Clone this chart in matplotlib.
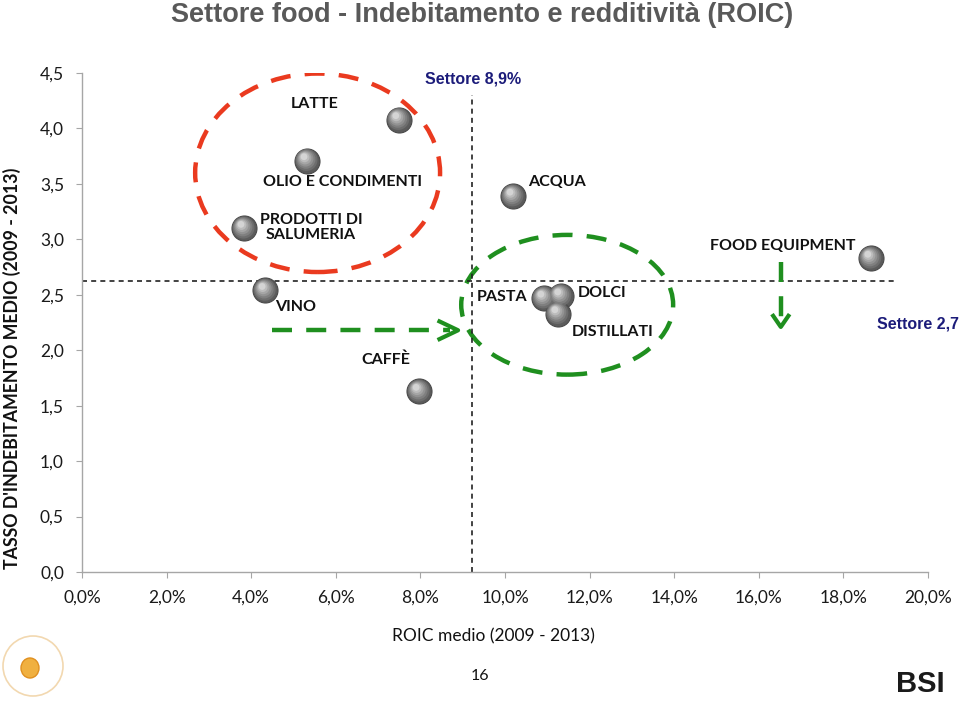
import numpy as np
import matplotlib
matplotlib.use("Agg")
import matplotlib.pyplot as plt
from matplotlib.patches import Ellipse
from matplotlib.transforms import ScaledTranslation
from matplotlib.ticker import FuncFormatter

# data: ROIC medio (%) vs tasso d'indebitamento medio
settori = ["LATTE", "OLIO E CONDIMENTI", "PRODOTTI DI\nSALUMERIA", "VINO", "CAFFÈ",
           "ACQUA", "PASTA", "DOLCI", "DISTILLATI", "FOOD EQUIPMENT"]
roic = [7.49, 5.32, 3.83, 4.33, 7.97, 10.19, 10.92, 11.32, 11.25, 18.65]
indebitamento = [4.08, 3.71, 3.10, 2.54, 1.63, 3.39, 2.47, 2.49, 2.33, 2.83]

roic_settore = 9.22      # vertical reference line (labelled 8,9%)
indeb_settore = 2.62     # horizontal reference line (labelled 2,7)

x_ticks = np.arange(0, 21, 2)
y_ticks = np.arange(0, 4.51, 0.5)

# label placement (data coords) for each sector
label_pos = [(5.51, 4.22), (6.15, 3.52), (5.41, 3.11), (5.04, 2.39), (7.19, 1.91),
             (11.23, 3.52), (9.93, 2.48), (12.29, 2.52), (12.55, 2.16), (16.57, 2.94)]

lab_font = ["Lato", "DejaVu Sans"]

fig = plt.figure(figsize=(9.6, 7.05), dpi=100)
ax = fig.add_axes([82 / 960, 1 - 572 / 705, (928 - 82) / 960, (572 - 73) / 705])
ax.set_xlim(0, 20)
ax.set_ylim(0, 4.5)

for s in ["top", "right"]:
    ax.spines[s].set_visible(False)
for s in ["left", "bottom"]:
    ax.spines[s].set_color("#a6a6a6")
    ax.spines[s].set_linewidth(1.0)

ax.set_xticks(x_ticks)
ax.set_yticks(y_ticks)
ax.xaxis.set_major_formatter(FuncFormatter(lambda v, p: f"{v:.1f}%".replace(".", ",")))
ax.yaxis.set_major_formatter(FuncFormatter(lambda v, p: f"{v:.1f}".replace(".", ",")))
ax.tick_params(axis="both", direction="out", length=4, color="#a6a6a6", labelsize=12.5,
               labelcolor="#1a1a1a")
ax.tick_params(axis="x", pad=9)
ax.tick_params(axis="y", pad=9)
for t in ax.get_xticklabels() + ax.get_yticklabels():
    t.set_fontfamily(lab_font)

# reference lines
ax.plot([roic_settore, roic_settore], [0, 4.30], ls=(0, (3, 2.5)), color="#222222", lw=1.2)
ax.plot([0, 19.2], [indeb_settore, indeb_settore], ls=(0, (3, 2.5)), color="#222222", lw=1.2)

# dashed ellipses
ax.add_patch(Ellipse((5.57, 3.60), 5.79, 1.79, fill=False, ec="#ea3a1f", lw=3.2,
                     ls=(0, (4.5, 3.2))))
ax.add_patch(Ellipse((11.47, 2.41), 5.01, 1.26, fill=False, ec="#1f8f1f", lw=3.2,
                     ls=(0, (4.5, 3.2))))

# green dashed arrows
ax.plot([4.49, 8.7], [2.18, 2.18], color="#1f8f1f", lw=3.2, ls=(0, (4.5, 3.2)))
ax.plot([8.45, 8.89, 8.45], [2.26, 2.18, 2.10], color="#1f8f1f", lw=3.0)
ax.plot([16.52, 16.52], [2.80, 2.26], color="#1f8f1f", lw=3.2, ls=(0, (4.5, 3.2)))
ax.plot([16.34, 16.52, 16.70], [2.31, 2.21, 2.31], color="#1f8f1f", lw=3.0)

# gray "spheres"
shades = ["#5b5b5b", "#6d6d6d", "#7f7f7f", "#929292", "#a6a6a6", "#bcbcbc", "#d4d4d4"]
for i, c in enumerate(shades):
    frac = 1 - i / len(shades) * 0.85
    d = 25 * frac
    off = ScaledTranslation(-0.035 * i / len(shades), 0.045 * i / len(shades),
                            fig.dpi_scale_trans)
    ax.scatter(roic, indebitamento, s=(d * 0.72) ** 2, color=c,
               edgecolors="#4a4a4a" if i == 0 else "none", linewidths=0.8,
               transform=ax.transData + off, zorder=5 + i, clip_on=False)

for name, (lx, ly) in zip(settori, label_pos):
    ax.text(lx, ly, name, ha="center", va="center", fontsize=11.5, fontweight="bold",
            family=lab_font, color="#111111", linespacing=1.1, zorder=20)

ax.text(8.11, 4.45, "Settore 8,9%", ha="left", va="center", fontsize=11.5,
        fontweight="bold", family=["Liberation Sans", "DejaVu Sans"], color="#1c1c7a")
ax.text(18.79, 2.24, "Settore 2,7", ha="left", va="center", fontsize=11.5,
        fontweight="bold", family=["Liberation Sans", "DejaVu Sans"], color="#1c1c7a",
        clip_on=False)

fig.text(482 / 960, 1 - 15 / 705, "Settore food - Indebitamento e redditività (ROIC)",
         ha="center", va="center", fontsize=19.5, fontweight="bold", color="#595959",
         family=["Liberation Sans", "DejaVu Sans"])
fig.text(12 / 960, 1 - 368 / 705, "TASSO D'INDEBITAMENTO MEDIO (2009 - 2013)",
         rotation=90, ha="center", va="center", fontsize=12.8, fontweight="bold",
         family=lab_font, color="#111111")
fig.text(493 / 960, 1 - 636 / 705, "ROIC medio (2009 - 2013)", ha="center", va="center",
         fontsize=12.5, family=lab_font, color="#111111")
fig.text(480 / 960, 1 - 676 / 705, "16", ha="center", va="center", fontsize=11.5,
         family=lab_font, color="#111111")

# logos (rough)
fig.text(920 / 960, 1 - 684 / 705, "BSI", ha="center", va="center", fontsize=21,
         fontweight="bold", family=["Liberation Sans", "DejaVu Sans"], color="#1a1a1a")
fig.patches.append(Ellipse((33 / 960, 1 - 666 / 705), 60 / 960, 60 / 705,
                           transform=fig.transFigure, fill=False, ec="#f2d8b0", lw=1.2))
fig.patches.append(Ellipse((30 / 960, 1 - 668 / 705), 18 / 960, 20 / 705,
                           transform=fig.transFigure, fc="#f0b040", ec="#e09020", lw=1))

fig.savefig("out.png", dpi=100)
